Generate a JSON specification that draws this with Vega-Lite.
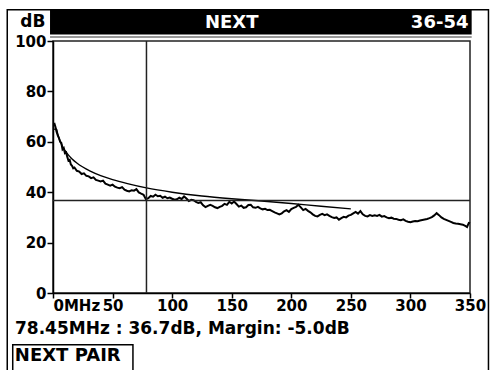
{
  "$schema": "https://vega.github.io/schema/vega-lite/v6.json",
  "width": 417,
  "height": 252,
  "autosize": "none",
  "padding": {"left": 53, "top": 41, "right": 20, "bottom": 77},
  "background": "white",
  "config": {"view": {"stroke": "#222", "strokeWidth": 1.5}, "font": "DejaVu Sans"},
  "datasets": {
    "measured": [
      {"mhz": 1, "db": 67.5}, {"mhz": 2, "db": 66.0}, {"mhz": 3, "db": 64.0}, {"mhz": 4, "db": 62.5}, {"mhz": 5, "db": 61.5},
      {"mhz": 6, "db": 60.0}, {"mhz": 7, "db": 59.5}, {"mhz": 8, "db": 57.0}, {"mhz": 9, "db": 57.5}, {"mhz": 10, "db": 55.5},
      {"mhz": 11, "db": 55.8}, {"mhz": 12, "db": 54.0}, {"mhz": 13, "db": 52.5}, {"mhz": 14, "db": 52.8}, {"mhz": 15, "db": 51.0},
      {"mhz": 16, "db": 50.5}, {"mhz": 17, "db": 49.5}, {"mhz": 18, "db": 49.8}, {"mhz": 20, "db": 48.5}, {"mhz": 22, "db": 48.2},
      {"mhz": 24, "db": 47.2}, {"mhz": 26, "db": 47.5}, {"mhz": 28, "db": 46.5}, {"mhz": 30, "db": 46.3}, {"mhz": 32, "db": 45.6},
      {"mhz": 34, "db": 45.9}, {"mhz": 36, "db": 44.9}, {"mhz": 38, "db": 44.6}, {"mhz": 40, "db": 44.3}, {"mhz": 42, "db": 44.6},
      {"mhz": 44, "db": 43.4}, {"mhz": 46, "db": 43.0}, {"mhz": 48, "db": 42.6}, {"mhz": 50, "db": 43.0}, {"mhz": 52, "db": 42.2},
      {"mhz": 54, "db": 41.8}, {"mhz": 56, "db": 41.6}, {"mhz": 58, "db": 42.0}, {"mhz": 60, "db": 41.0}, {"mhz": 62, "db": 40.6},
      {"mhz": 64, "db": 40.3}, {"mhz": 66, "db": 40.8}, {"mhz": 68, "db": 40.6}, {"mhz": 70, "db": 41.2}, {"mhz": 72, "db": 39.9},
      {"mhz": 74, "db": 39.4}, {"mhz": 76, "db": 39.0}, {"mhz": 78, "db": 37.2}, {"mhz": 80, "db": 37.6}, {"mhz": 82, "db": 38.5},
      {"mhz": 84, "db": 38.2}, {"mhz": 86, "db": 39.0}, {"mhz": 88, "db": 38.4}, {"mhz": 90, "db": 38.6}, {"mhz": 92, "db": 37.8},
      {"mhz": 94, "db": 38.2}, {"mhz": 96, "db": 37.6}, {"mhz": 98, "db": 37.9}, {"mhz": 100, "db": 37.4}, {"mhz": 102, "db": 37.0},
      {"mhz": 104, "db": 37.2}, {"mhz": 106, "db": 37.8}, {"mhz": 108, "db": 37.3}, {"mhz": 110, "db": 38.3}, {"mhz": 112, "db": 37.5},
      {"mhz": 114, "db": 36.5}, {"mhz": 116, "db": 37.0}, {"mhz": 118, "db": 36.8}, {"mhz": 120, "db": 36.2}, {"mhz": 122, "db": 35.7},
      {"mhz": 124, "db": 36.0}, {"mhz": 126, "db": 34.8}, {"mhz": 128, "db": 34.1}, {"mhz": 130, "db": 34.6}, {"mhz": 132, "db": 35.0},
      {"mhz": 134, "db": 34.6}, {"mhz": 136, "db": 34.0}, {"mhz": 138, "db": 33.7}, {"mhz": 140, "db": 34.2}, {"mhz": 142, "db": 34.6},
      {"mhz": 144, "db": 35.4}, {"mhz": 146, "db": 35.0}, {"mhz": 148, "db": 36.2}, {"mhz": 150, "db": 35.5}, {"mhz": 152, "db": 36.3},
      {"mhz": 154, "db": 35.3}, {"mhz": 156, "db": 34.3}, {"mhz": 158, "db": 34.7}, {"mhz": 160, "db": 33.8}, {"mhz": 162, "db": 34.0},
      {"mhz": 164, "db": 34.9}, {"mhz": 166, "db": 35.0}, {"mhz": 168, "db": 34.0}, {"mhz": 170, "db": 33.8}, {"mhz": 172, "db": 34.2},
      {"mhz": 174, "db": 33.6}, {"mhz": 176, "db": 33.2}, {"mhz": 178, "db": 33.4}, {"mhz": 180, "db": 32.9}, {"mhz": 182, "db": 33.0},
      {"mhz": 184, "db": 32.5}, {"mhz": 186, "db": 32.0}, {"mhz": 188, "db": 31.6}, {"mhz": 190, "db": 31.2}, {"mhz": 192, "db": 31.6},
      {"mhz": 194, "db": 32.4}, {"mhz": 196, "db": 32.9}, {"mhz": 198, "db": 32.2}, {"mhz": 200, "db": 33.3}, {"mhz": 202, "db": 33.8},
      {"mhz": 204, "db": 34.2}, {"mhz": 206, "db": 35.0}, {"mhz": 208, "db": 34.0}, {"mhz": 210, "db": 32.9}, {"mhz": 212, "db": 33.4},
      {"mhz": 214, "db": 32.6}, {"mhz": 216, "db": 32.0}, {"mhz": 218, "db": 31.2}, {"mhz": 220, "db": 30.6}, {"mhz": 222, "db": 30.4},
      {"mhz": 224, "db": 31.0}, {"mhz": 226, "db": 31.4}, {"mhz": 228, "db": 30.9}, {"mhz": 230, "db": 31.2}, {"mhz": 232, "db": 30.6},
      {"mhz": 234, "db": 30.1}, {"mhz": 236, "db": 29.8}, {"mhz": 238, "db": 30.0}, {"mhz": 240, "db": 29.1}, {"mhz": 242, "db": 29.7},
      {"mhz": 244, "db": 30.2}, {"mhz": 246, "db": 30.0}, {"mhz": 248, "db": 30.7}, {"mhz": 250, "db": 31.0}, {"mhz": 252, "db": 31.6},
      {"mhz": 254, "db": 32.2}, {"mhz": 256, "db": 31.5}, {"mhz": 258, "db": 32.5}, {"mhz": 260, "db": 31.2}, {"mhz": 262, "db": 30.6},
      {"mhz": 264, "db": 30.4}, {"mhz": 266, "db": 30.9}, {"mhz": 268, "db": 30.6}, {"mhz": 270, "db": 30.8}, {"mhz": 272, "db": 30.6},
      {"mhz": 274, "db": 31.0}, {"mhz": 276, "db": 30.3}, {"mhz": 278, "db": 30.5}, {"mhz": 280, "db": 30.0}, {"mhz": 282, "db": 29.7},
      {"mhz": 284, "db": 29.9}, {"mhz": 286, "db": 29.5}, {"mhz": 288, "db": 29.4}, {"mhz": 290, "db": 29.1}, {"mhz": 292, "db": 28.9},
      {"mhz": 294, "db": 29.2}, {"mhz": 296, "db": 28.6}, {"mhz": 298, "db": 28.3}, {"mhz": 300, "db": 28.1}, {"mhz": 302, "db": 28.4},
      {"mhz": 304, "db": 28.6}, {"mhz": 306, "db": 28.5}, {"mhz": 308, "db": 28.8}, {"mhz": 310, "db": 29.0}, {"mhz": 312, "db": 29.2},
      {"mhz": 314, "db": 29.4}, {"mhz": 316, "db": 29.7}, {"mhz": 318, "db": 30.1}, {"mhz": 320, "db": 30.8}, {"mhz": 322, "db": 31.7},
      {"mhz": 324, "db": 30.9}, {"mhz": 326, "db": 30.0}, {"mhz": 328, "db": 29.4}, {"mhz": 330, "db": 29.0}, {"mhz": 332, "db": 28.6},
      {"mhz": 334, "db": 28.2}, {"mhz": 336, "db": 27.8}, {"mhz": 338, "db": 27.6}, {"mhz": 340, "db": 27.5}, {"mhz": 342, "db": 27.3},
      {"mhz": 344, "db": 27.1}, {"mhz": 346, "db": 26.6}, {"mhz": 347.5, "db": 26.2}, {"mhz": 349, "db": 27.8}, {"mhz": 350, "db": 27.6}
    ],
    "limit": [
      {"mhz": 1, "db": 65.0}, {"mhz": 3, "db": 65.0}, {"mhz": 4, "db": 63.0}, {"mhz": 6, "db": 60.2}, {"mhz": 8, "db": 58.2},
      {"mhz": 10, "db": 56.6}, {"mhz": 13, "db": 54.7}, {"mhz": 16, "db": 53.2}, {"mhz": 20, "db": 51.6}, {"mhz": 25, "db": 50.0},
      {"mhz": 31.25, "db": 48.4}, {"mhz": 40, "db": 46.6}, {"mhz": 50, "db": 45.0}, {"mhz": 62.5, "db": 43.4}, {"mhz": 78.45, "db": 41.7},
      {"mhz": 100, "db": 40.0}, {"mhz": 125, "db": 38.5}, {"mhz": 150, "db": 37.4}, {"mhz": 175, "db": 36.5}, {"mhz": 200, "db": 35.5},
      {"mhz": 225, "db": 34.4}, {"mhz": 250, "db": 33.4}
    ]
  },
  "layer": [
    {
      "data": {"name": "measured"},
      "mark": {"type": "line", "stroke": "black", "strokeWidth": 2},
      "encoding": {
        "x": {
          "field": "mhz", "type": "quantitative",
          "scale": {"domain": [0, 350], "nice": false, "zero": false},
          "axis": {
            "title": null, "values": [0, 50, 100, 150, 200, 250, 300, 350],
            "labelExpr": "datum.value == 0 ? '0MHz' : datum.label",
            "labelAlign": {"condition": {"test": "datum.value == 0", "value": "left"}, "value": "center"},
            "labelOverlap": false, "labelFlush": false, "labelBound": false,
            "tickSize": 5, "tickColor": "black", "tickWidth": 1.5,
            "domainColor": "black", "domainWidth": 1.5, "grid": false,
            "labelFont": "DejaVu Sans", "labelFontWeight": "bold", "labelFontSize": 15, "labelColor": "black", "labelPadding": 0
          }
        },
        "y": {
          "field": "db", "type": "quantitative",
          "scale": {"domain": [0, 100], "nice": false, "zero": false},
          "axis": {
            "title": "dB", "values": [0, 20, 40, 60, 80, 100],
            "tickSize": 6, "tickColor": "black", "tickWidth": 1.5,
            "domainColor": "black", "domainWidth": 1.5, "grid": false,
            "labelFont": "DejaVu Sans", "labelFontWeight": "bold", "labelFontSize": 15, "labelColor": "black", "labelPadding": 1,
            "titleAngle": 0, "titleX": -8, "titleY": -20, "titleAlign": "right", "titleBaseline": "middle",
            "titleFont": "DejaVu Sans", "titleFontWeight": "bold", "titleFontSize": 17, "titleColor": "black"
          }
        }
      }
    },
    {
      "data": {"name": "limit"},
      "mark": {"type": "line", "stroke": "black", "strokeWidth": 1.4, "interpolate": "monotone"},
      "encoding": {
        "x": {"field": "mhz", "type": "quantitative", "scale": {"domain": [0, 350], "nice": false, "zero": false}},
        "y": {"field": "db", "type": "quantitative", "scale": {"domain": [0, 100], "nice": false, "zero": false}}
      }
    },
    {
      "data": {"values": [{}]},
      "mark": {"type": "rect", "fill": "transparent", "stroke": "black", "strokeWidth": 1.5, "clip": false},
      "encoding": {
        "x": {"datum": -38.4, "type": "quantitative", "scale": {"domain": [0, 350], "nice": false, "zero": false}},
        "x2": {"datum": 365.5},
        "y": {"datum": 112.4, "type": "quantitative", "scale": {"domain": [0, 100], "nice": false, "zero": false}},
        "y2": {"datum": -33}
      }
    },
    {
      "data": {"values": [{}]},
      "mark": {"type": "rect", "fill": "black", "clip": false},
      "encoding": {
        "x": {"datum": -2.5, "type": "quantitative", "scale": {"domain": [0, 350], "nice": false, "zero": false}},
        "x2": {"datum": 351.4},
        "y": {"datum": 112.4, "type": "quantitative", "scale": {"domain": [0, 100], "nice": false, "zero": false}},
        "y2": {"datum": 102.6}
      }
    },
    {
      "data": {"values": [{}]},
      "mark": {"type": "rule", "stroke": "#999", "strokeWidth": 2, "clip": false},
      "encoding": {
        "x": {"datum": -2.5, "type": "quantitative", "scale": {"domain": [0, 350], "nice": false, "zero": false}},
        "x2": {"datum": 351.4},
        "y": {"datum": 101.6, "type": "quantitative", "scale": {"domain": [0, 100], "nice": false, "zero": false}}
      }
    },
    {
      "data": {"values": [{}]},
      "mark": {"type": "text", "text": "NEXT", "fill": "white", "font": "DejaVu Sans", "fontWeight": "bold", "fontSize": 18, "align": "center", "baseline": "middle", "clip": false},
      "encoding": {
        "x": {"datum": 150, "type": "quantitative", "scale": {"domain": [0, 350], "nice": false, "zero": false}},
        "y": {"datum": 107.2, "type": "quantitative", "scale": {"domain": [0, 100], "nice": false, "zero": false}}
      }
    },
    {
      "data": {"values": [{}]},
      "mark": {"type": "text", "text": "36-54", "fill": "white", "font": "DejaVu Sans", "fontWeight": "bold", "fontSize": 18, "align": "right", "baseline": "middle", "clip": false},
      "encoding": {
        "x": {"datum": 348.7, "type": "quantitative", "scale": {"domain": [0, 350], "nice": false, "zero": false}},
        "y": {"datum": 107.2, "type": "quantitative", "scale": {"domain": [0, 100], "nice": false, "zero": false}}
      }
    },
    {
      "data": {"values": [{}]},
      "mark": {"type": "rule", "stroke": "#222", "strokeWidth": 1.5},
      "encoding": {
        "x": {"datum": 78.45, "type": "quantitative", "scale": {"domain": [0, 350], "nice": false, "zero": false}}
      }
    },
    {
      "data": {"values": [{}]},
      "mark": {"type": "rule", "stroke": "#222", "strokeWidth": 1.5},
      "encoding": {
        "y": {"datum": 36.7, "type": "quantitative", "scale": {"domain": [0, 100], "nice": false, "zero": false}}
      }
    },
    {
      "data": {"values": [{}]},
      "mark": {"type": "text", "text": "78.45MHz : 36.7dB, Margin: -5.0dB", "fill": "black", "font": "DejaVu Sans", "fontWeight": "bold", "fontSize": 17, "align": "left", "baseline": "middle", "clip": false},
      "encoding": {
        "x": {"datum": -31.9, "type": "quantitative", "scale": {"domain": [0, 350], "nice": false, "zero": false}},
        "y": {"datum": -14.2, "type": "quantitative", "scale": {"domain": [0, 100], "nice": false, "zero": false}}
      }
    },
    {
      "data": {"values": [{}]},
      "mark": {"type": "rect", "fill": "transparent", "stroke": "black", "strokeWidth": 1.5, "clip": false},
      "encoding": {
        "x": {"datum": -33.8, "type": "quantitative", "scale": {"domain": [0, 350], "nice": false, "zero": false}},
        "x2": {"datum": 67.1},
        "y": {"datum": -20.5, "type": "quantitative", "scale": {"domain": [0, 100], "nice": false, "zero": false}},
        "y2": {"datum": -33}
      }
    },
    {
      "data": {"values": [{}]},
      "mark": {"type": "text", "text": "NEXT PAIR", "fill": "black", "font": "DejaVu Sans", "fontWeight": "bold", "fontSize": 18, "align": "left", "baseline": "middle", "clip": false},
      "encoding": {
        "x": {"datum": -32, "type": "quantitative", "scale": {"domain": [0, 350], "nice": false, "zero": false}},
        "y": {"datum": -24.9, "type": "quantitative", "scale": {"domain": [0, 100], "nice": false, "zero": false}}
      }
    }
  ]
}
